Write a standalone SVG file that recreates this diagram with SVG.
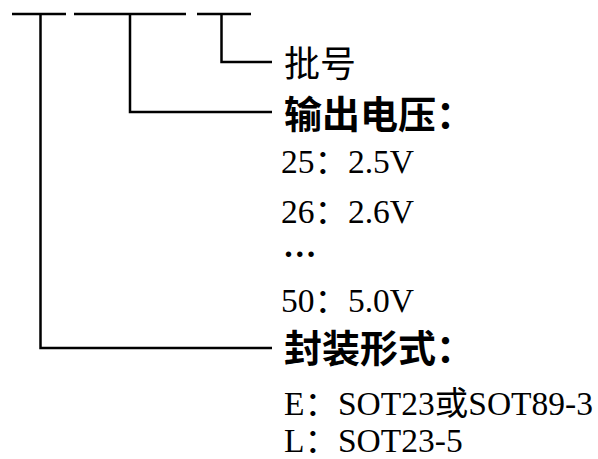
<svg xmlns="http://www.w3.org/2000/svg" width="598" height="459" viewBox="0 0 598 459">
<style>
.ln{stroke:#000;stroke-width:2.5;fill:none;stroke-linecap:butt}
.cjk{font-family:"Noto Sans CJK SC","Liberation Serif",serif;font-size:36px;fill:#000}
.hd{font-family:"Noto Sans CJK SC","Liberation Serif",serif;font-size:38px;font-weight:bold;fill:#000}
.v{font-family:"Liberation Serif","Noto Sans CJK SC",serif;font-size:33.5px;fill:#000}
</style>
<rect width="598" height="459" fill="#fff"/>
<g id="connectors">
<path class="ln" d="M12 14H66M74 14H186M197 14H251"/>
<path class="ln" d="M40.5 14V348H272"/>
<path class="ln" d="M130 14V112H272"/>
<path class="ln" d="M221.5 14V62H272"/>
</g>
<g id="batch"><text class="cjk" x="284" y="77">批号</text></g>
<g id="voltage">
<text class="hd" x="284" y="128">输出电压：</text>
<text class="v" x="281" y="173">25：2.5V</text>
<text class="v" x="281" y="223">26：2.6V</text>
<text class="v" x="283" y="257" font-weight="bold">…</text>
<text class="v" x="281" y="312">50：5.0V</text>
</g>
<g id="package">
<text class="hd" x="284" y="362">封装形式：</text>
<text class="v" x="284" y="415">E：SOT23或SOT89-3</text>
<text class="v" x="284" y="452">L：SOT23-5</text>
</g>
</svg>
